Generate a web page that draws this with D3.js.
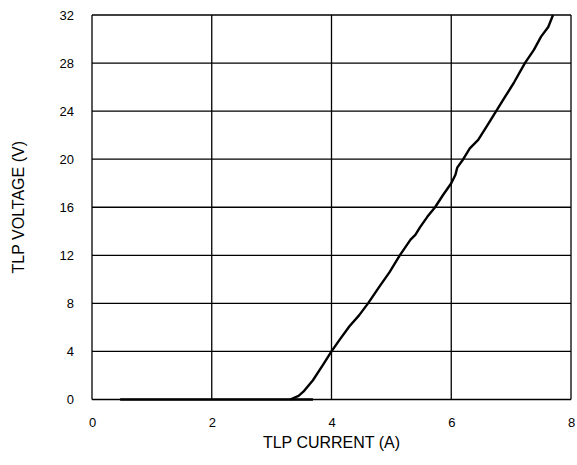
<!DOCTYPE html>
<html>
<head>
<meta charset="utf-8">
<script src="https://cdn.jsdelivr.net/npm/d3@7"></script>
<style>
  body { margin: 0; background: #fff; }
  text { font-family: "Liberation Sans", Arial, sans-serif; fill: #000; }
</style>
</head>
<body>
<script>
// values (current in A, voltage in V)
const xTicks = [0, 2, 4, 6, 8]
const yTicks = [0, 4, 8, 12, 16, 20, 24, 28, 32]

// leakage part, flat on 0 V
const baseCurrent = [0.47, 3.69]
const baseVoltage = [0, 0]

// the TLP curve itself
const tlpCurrent = [3.31, 3.45, 3.53, 3.69, 3.86, 4.0, 4.14, 4.3, 4.46, 4.61, 4.8, 4.97, 5.14, 5.32, 5.4, 5.48, 5.6, 5.73, 5.86, 6.0, 6.07, 6.1, 6.2, 6.31, 6.45, 6.6, 6.75, 6.9, 7.05, 7.23, 7.38, 7.5, 7.62, 7.66, 7.70]
const tlpVoltage = [0, 0.3, 0.65, 1.6, 2.9, 4.0, 5.0, 6.1, 7.0, 8.0, 9.4, 10.6, 12.0, 13.3, 13.7, 14.35, 15.2, 16.0, 17.0, 18.0, 18.7, 19.3, 20.0, 20.9, 21.6, 22.8, 24.0, 25.2, 26.4, 28.0, 29.1, 30.2, 31.0, 31.5, 32]

const m = { left: 92, right: 571, top: 15, bottom: 399.5 }

const svg = d3.select('body').append('svg')
    .attr('width', 577)
    .attr('height', 465)

const x = d3.scaleLinear().domain([0, 8]).range([m.left, m.right])
const y = d3.scaleLinear().domain([0, 32]).range([m.bottom, m.top])

// grid
svg.append('g').selectAll('line')
    .data(xTicks)
    .enter()
    .append('line')
        .attr('x1', d => x(d)).attr('x2', d => x(d))
        .attr('y1', m.top).attr('y2', m.bottom)
        .attr('stroke', '#000')
        .attr('stroke-width', 1.3)

svg.append('g').selectAll('line')
    .data(yTicks)
    .enter()
    .append('line')
        .attr('x1', m.left).attr('x2', m.right)
        .attr('y1', d => y(d)).attr('y2', d => y(d))
        .attr('stroke', '#000')
        .attr('stroke-width', 1.3)

// axes: only labels, the frame is the grid
const xAxis = svg.append('g')
    .attr('transform', `translate(0,${m.bottom})`)
    .call(d3.axisBottom(x).tickValues(xTicks).tickSize(0).tickPadding(18))
xAxis.select('.domain').remove()
xAxis.selectAll('text').style('font-size', '13px').style('font-family', '"Liberation Sans", Arial, sans-serif')

const yAxis = svg.append('g')
    .attr('transform', `translate(${m.left},0)`)
    .call(d3.axisLeft(y).tickValues(yTicks).tickSize(0).tickPadding(18))
yAxis.select('.domain').remove()
yAxis.selectAll('text').style('font-size', '13px').style('font-family', '"Liberation Sans", Arial, sans-serif')

// titles
svg.append('text')
    .attr('x', (m.left + m.right) / 2)
    .attr('y', 448)
    .attr('text-anchor', 'middle')
    .style('font-size', '16px')
    .text('TLP CURRENT (A)')

svg.append('text')
    .attr('transform', `translate(24,${(m.top + m.bottom) / 2}) rotate(-90)`)
    .attr('text-anchor', 'middle')
    .style('font-size', '16px')
    .text('TLP VOLTAGE (V)')

// curve
const line = d3.line()
    .x(d => x(d[0]))
    .y(d => y(d[1]))

svg.append('path')
    .datum(d3.zip(baseCurrent, baseVoltage))
    .attr('d', line)
    .attr('fill', 'none')
    .attr('stroke', '#000')
    .attr('stroke-width', 2.4)

svg.append('path')
    .datum(d3.zip(tlpCurrent, tlpVoltage))
    .attr('d', line)
    .attr('fill', 'none')
    .attr('stroke', '#000')
    .attr('stroke-width', 2.4)
    .attr('stroke-linejoin', 'round')
</script>
</body>
</html>
